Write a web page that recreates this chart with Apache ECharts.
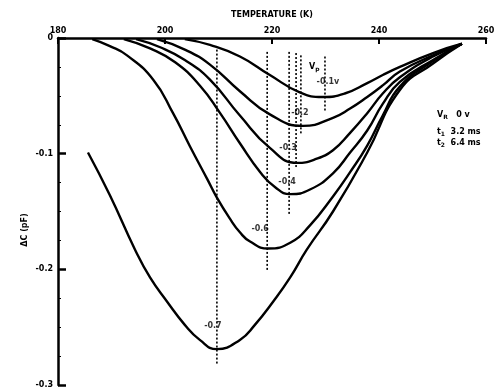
<!DOCTYPE html>
<html>
<head>
<meta charset="utf-8">
<script src="https://cdn.jsdelivr.net/npm/echarts@6/dist/echarts.min.js"></script>
<style>
  html, body { margin: 0; padding: 0; background: #fff; }
  #chart { width: 498px; height: 389px; }
</style>
</head>
<body>
<div id="chart"></div>
<script>
// DLTS capacitance transients vs temperature for several pulse voltages Vp
const xTicks = [180, 200, 220, 240, 260];
const yTicks = [0, -0.1, -0.2, -0.3];

const pulseLabels = ['-0.1v', '-0.2', '-0.3', '-0.4', '-0.6', '-0.7'];

// Temperature (K) and ΔC (pF) samples for each curve
const tVp01 = [203.7, 208.4, 214.0, 219.6, 225.2, 229.5, 233.6, 237.8, 240.7, 243.9, 250.1, 255.5];
const dcVp01 = [-0.001, -0.006, -0.016, -0.032, -0.047, -0.051, -0.048, -0.039, -0.032, -0.025, -0.013, -0.005];

const tVp02 = [198.5, 203.7, 208.4, 214.0, 219.6, 225.8, 231.4, 234.6, 237.8, 240.7, 243.9, 250.1, 255.5];
const dcVp02 = [-0.001, -0.010, -0.023, -0.046, -0.066, -0.076, -0.069, -0.061, -0.051, -0.041, -0.029, -0.015, -0.005];

const tVp03 = [194.6, 199.1, 203.7, 208.4, 214.0, 219.6, 224.7, 228.0, 231.4, 234.6, 237.8, 240.7, 243.9, 250.1, 255.5];
const dcVp03 = [-0.001, -0.008, -0.019, -0.036, -0.067, -0.095, -0.108, -0.105, -0.097, -0.082, -0.065, -0.048, -0.034, -0.016, -0.005];

const tVp04 = [192.3, 197.2, 201.9, 206.5, 210.3, 214.0, 217.8, 220.6, 223.4, 227.1, 231.4, 234.6, 237.8, 240.7, 243.9, 250.1, 255.5];
const dcVp04 = [-0.001, -0.009, -0.021, -0.041, -0.065, -0.091, -0.116, -0.129, -0.135, -0.131, -0.117, -0.099, -0.080, -0.057, -0.038, -0.019, -0.005];

const tVp06 = [186.4, 189.7, 192.9, 197.8, 201.5, 204.7, 207.9, 209.7, 212.1, 214.0, 215.9, 219.3, 223.4, 227.1, 231.4, 234.6, 237.8, 240.7, 243.9, 250.1, 255.5];
const dcVp06 = [-0.001, -0.007, -0.015, -0.036, -0.065, -0.094, -0.122, -0.138, -0.156, -0.168, -0.176, -0.182, -0.177, -0.162, -0.137, -0.116, -0.093, -0.067, -0.042, -0.020, -0.005];

const tVp07 = [185.6, 189.7, 194.4, 197.2, 200.4, 203.7, 206.5, 209.7, 214.0, 216.8, 220.2, 223.4, 226.5, 231.4, 237.8, 243.9, 250.1, 255.5];
const dcVp07 = [-0.099, -0.136, -0.183, -0.207, -0.228, -0.248, -0.261, -0.269, -0.261, -0.248, -0.228, -0.207, -0.183, -0.150, -0.099, -0.045, -0.022, -0.005];

// Peak temperature markers (dotted verticals) and the curve minima they point to
const peakT = [229.9, 225.4, 224.5, 223.2, 219.1, 209.7];
const peakDC = [-0.051, -0.076, -0.108, -0.135, -0.182, -0.269];
const markTop = [-0.016, -0.015, -0.013, -0.012, -0.012, -0.010];
const markBottom = [-0.064, -0.084, -0.112, -0.153, -0.202, -0.283];

const curveT = [tVp01, tVp02, tVp03, tVp04, tVp06, tVp07];
const curveDC = [dcVp01, dcVp02, dcVp03, dcVp04, dcVp06, dcVp07];

const FONT = 'DejaVu Sans';
const chart = echarts.init(document.getElementById('chart'));

const series = [];
curveT.forEach((ts, i) => {
  series.push({
    type: 'line',
    data: ts.map((t, k) => [t, curveDC[i][k]]),
    showSymbol: false,
    smooth: 0.5,
    lineStyle: { color: '#000', width: 2.4 },
    silent: true,
    z: 3
  });
});
peakT.forEach((t, i) => {
  series.push({
    type: 'line',
    data: [[t, markTop[i]], [t, markBottom[i]]],
    showSymbol: false,
    lineStyle: { color: '#000', width: 1.6, type: [2, 2] },
    silent: true,
    z: 2
  });
});
// label offsets (px) from each curve minimum
const labelOffset = [[3, -15], [-1, -13], [-8, -15], [-2, -12], [-7, -20], [-4, -23]];
series.push({
  type: 'scatter',
  symbolSize: 0,
  silent: true,
  data: peakT.map((t, i) => ({
    value: [t, peakDC[i]],
    label: {
      show: true,
      position: 'inside',
      offset: labelOffset[i],
      formatter: pulseLabels[i],
      color: '#000',
      fontFamily: FONT,
      fontWeight: 'bold',
      fontSize: 8
    }
  })),
  z: 5
});

const sub = (main, s, rest) => ({
  text: '{v|' + main + '}{s|' + s + '}' + (rest ? '{n|' + rest + '}' : ''),
  rich: {
    v: { fill: '#000', font: 'bold 8px "DejaVu Sans"' },
    s: { fill: '#000', font: 'bold 6px "DejaVu Sans"', padding: [4, 0, 0, 0] },
    n: { fill: '#000', font: 'bold 8px "DejaVu Sans"' }
  },
  verticalAlign: 'middle'
});

chart.setOption({
  animation: false,
  backgroundColor: '#fff',
  grid: { left: 58, right: 12, top: 38, bottom: 4 },
  xAxis: {
    type: 'value',
    position: 'top',
    min: xTicks[0],
    max: xTicks[xTicks.length - 1],
    interval: 20,
    name: 'TEMPERATURE (K)',
    nameLocation: 'middle',
    nameGap: 19,
    nameTextStyle: { color: '#000', fontFamily: FONT, fontWeight: 'bold', fontSize: 8 },
    axisLine: { onZero: false, lineStyle: { color: '#000', width: 2.5 } },
    axisTick: { inside: true, length: 6, lineStyle: { color: '#000', width: 2 } },
    axisLabel: { color: '#000', fontFamily: FONT, fontWeight: 'bold', fontSize: 8, margin: 3 },
    splitLine: { show: false }
  },
  yAxis: {
    type: 'value',
    min: yTicks[yTicks.length - 1],
    max: yTicks[0],
    interval: 0.1,
    axisLine: { show: true, onZero: false, lineStyle: { color: '#000', width: 2.5 } },
    axisTick: { show: true, inside: true, length: 8, lineStyle: { color: '#000', width: 2.5 } },
    minorTick: { show: true, splitNumber: 4, length: 3, lineStyle: { color: '#000', width: 1 } },
    axisLabel: {
      color: '#000', fontFamily: FONT, fontWeight: 'bold', fontSize: 8, margin: 5,
      formatter: v => (Math.abs(v) < 1e-9 ? '0' : v.toFixed(1))
    },
    splitLine: { show: false }
  },
  graphic: [
    {
      type: 'text', x: 25, y: 230, rotation: Math.PI / 2,
      style: { text: 'ΔC (pF)', fill: '#000', font: 'bold 8px "DejaVu Sans"', align: 'center', verticalAlign: 'middle' }
    },
    { type: 'text', x: 309, y: 67, style: sub('V', 'p') },
    { type: 'text', x: 437, y: 115, style: sub('V', 'R', '   0 v') },
    { type: 'text', x: 437, y: 132, style: sub('t', '1', '  3.2 ms') },
    { type: 'text', x: 437, y: 143, style: sub('t', '2', '  6.4 ms') }
  ],
  series: series
});
</script>
</body>
</html>
